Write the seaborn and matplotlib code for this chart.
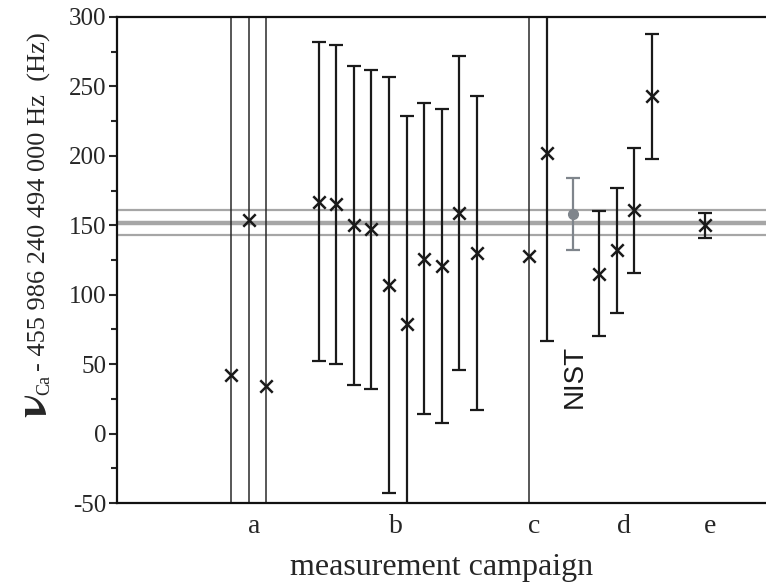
import numpy as np
import pandas as pd
import seaborn as sns
import matplotlib.pyplot as plt
from matplotlib.ticker import MultipleLocator

# measurement index along the campaign axis, value (Hz) and 1-sigma uncertainty (Hz)
index = [6, 7, 8, 11, 12, 13, 14, 15, 16, 17, 18, 19, 20, 23, 24, 27, 28, 29, 30, 33]
freq = [42, 154, 34, 167, 165, 150, 147, 107, 79, 126, 121, 159, 130, 128, 202, 115, 132, 161, 243, 150]
uncert = [500, 500, 500, 115, 115, 115, 115, 150, 150, 112, 113, 113, 113, 500, 135, 45, 45, 45, 45, 9]

nist_index = 25.5
nist_freq = 158
nist_uncert = 26

mean_freq = 152
mean_band = [143, 161]

campaigns = ['a', 'b', 'c', 'd', 'e']
campaign_pos = [7.3, 15.4, 23.3, 28.4, 33.3]

df = pd.DataFrame({'index': index, 'freq': freq, 'uncert': uncert})
big = df[df['uncert'] >= 400]
small = df[df['uncert'] < 400]

sns.set_theme(style='ticks')
plt.rcParams['font.family'] = ['Liberation Serif', 'DejaVu Serif']
plt.rcParams['mathtext.fontset'] = 'stix'
plt.rcParams['axes.unicode_minus'] = False

fig = plt.figure(figsize=(7.66, 5.85), dpi=100)
ax = fig.add_axes([0.153, 0.14, 0.847, 0.831])

# weighted mean and its band
ax.axhline(mean_freq, color='#a6a6a6', lw=3.2, zorder=1)
for b in mean_band:
    ax.axhline(b, color='#a6a6a6', lw=1.6, zorder=1)

# measurements with uncertainties larger than the plot range
ax.errorbar(big['index'], big['freq'], yerr=big['uncert'], fmt='none',
            ecolor='#2a2a2a', elinewidth=1.1, capsize=0, zorder=2)
ax.errorbar(small['index'], small['freq'], yerr=small['uncert'], fmt='none',
            ecolor='#1a1a1a', elinewidth=1.6, capsize=5, capthick=1.6, zorder=2)
sns.scatterplot(data=df, x='index', y='freq', marker='x', s=80, color='#1a1a1a',
                linewidth=1.8, ax=ax, zorder=3)

# NIST value
ax.errorbar([nist_index], [nist_freq], yerr=[nist_uncert], fmt='o', color='#7f858c',
            ms=7, elinewidth=1.6, capsize=5, capthick=1.6, zorder=3)
ax.text(nist_index + 0.1, 41, 'NIST', rotation=90, ha='center', va='center',
        fontsize=20, family=['Liberation Sans', 'DejaVu Sans'], color='#1a1a1a')

ax.set_xlim(-0.5, 36.5)
ax.set_ylim(-50, 300)
ax.yaxis.set_major_locator(MultipleLocator(50))
ax.yaxis.set_minor_locator(MultipleLocator(25))
ax.set_xticks(campaign_pos)
ax.set_xticklabels(campaigns, fontsize=20)
ax.tick_params(axis='x', length=0, pad=8)
ax.tick_params(axis='y', which='major', direction='out', length=6, width=1.5, labelsize=18, pad=2)
ax.tick_params(axis='y', which='minor', direction='out', length=4, width=1.5)

for side in ['left', 'bottom', 'top']:
    ax.spines[side].set_linewidth(1.6)
    ax.spines[side].set_color('#111111')
ax.spines['right'].set_visible(False)

ax.set_xlabel('measurement campaign', fontsize=23, labelpad=10)
ax.set_ylabel('')

# y label built from two pieces so the nu can be larger
W, H = 766, 585
base_x = 46 / W
nu = fig.text(base_x, 1 - 418 / H, r'$\mathbf{\nu}$', rotation=90, rotation_mode='anchor',
              ha='left', va='baseline', fontsize=32)
fig.canvas.draw()
r = fig.canvas.get_renderer()
y_next = nu.get_window_extent(r).y1
ca = fig.text(base_x + 0.004, (y_next - 1) / H, 'Ca', rotation=90, rotation_mode='anchor',
              ha='left', va='baseline', fontsize=13)
fig.canvas.draw()
y_next = ca.get_window_extent(r).y1
fig.text(base_x, (y_next + 4) / H, '- 455 986 240 494 000 Hz  (Hz)', rotation=90,
         rotation_mode='anchor', ha='left', va='baseline', fontsize=19)

fig.savefig('out.png', dpi=100)
